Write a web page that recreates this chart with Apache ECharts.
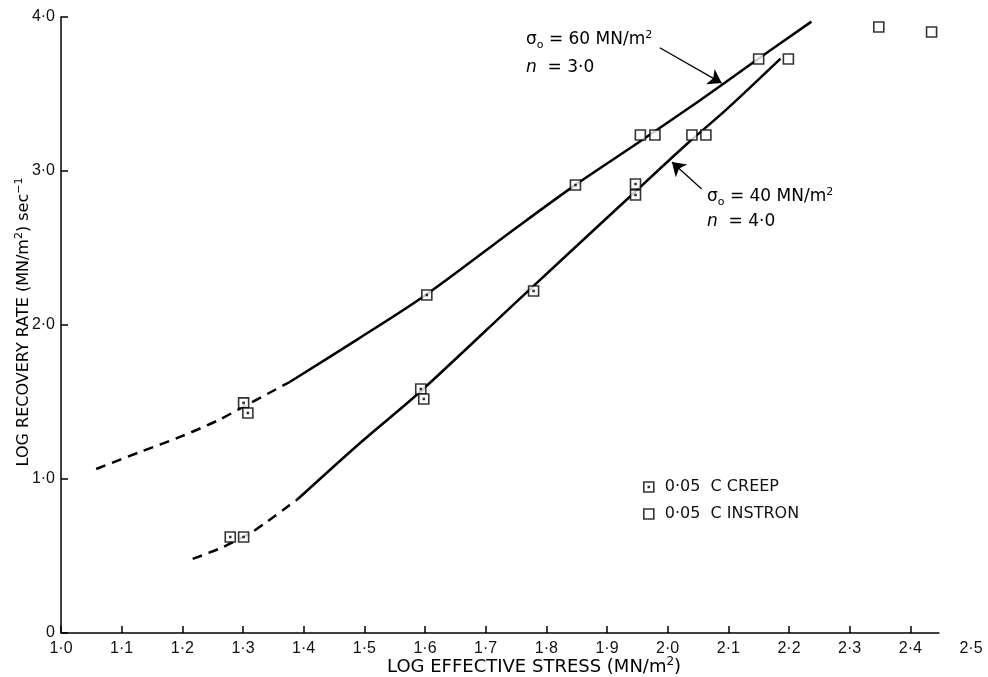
<!DOCTYPE html>
<html><head><meta charset="utf-8">
<script src="https://cdn.jsdelivr.net/npm/echarts@6/dist/echarts.min.js"></script>
<style>html,body{margin:0;padding:0;background:#fff}#c{width:988px;height:677px}</style>
</head><body><div id="c"></div>
<script>
// ---- data ----
const xTickLabels = ['1·0','1·1','1·2','1·3','1·4','1·5','1·6','1·7','1·8','1·9','2·0','2·1','2·2','2·3','2·4','2·5'];
const xTickMarks = [1.0, 1.1, 1.2, 1.3, 1.4, 1.5, 1.6, 1.7, 1.8, 1.9, 2.0, 2.1, 2.2, 2.3, 2.4];
const yTickLabels = ['0','1·0','2·0','3·0','4·0'];
const xAxisLineEnd = 2.448;

const creepX = [1.301, 1.308, 1.279, 1.301, 1.593, 1.598, 1.603, 1.779, 1.848, 1.947, 1.947];
const creepY = [1.494, 1.429, 0.623, 0.623, 1.584, 1.519, 2.195, 2.221, 2.909, 2.916, 2.844];

const instronX = [1.955, 1.979, 2.040, 2.063, 2.150, 2.199, 2.348, 2.435];
const instronY = [3.234, 3.234, 3.234, 3.234, 3.727, 3.727, 3.935, 3.903];

const upperDashX = [1.058, 1.13, 1.196, 1.26, 1.301, 1.377];
const upperDashY = [1.065, 1.175, 1.273, 1.383, 1.47, 1.630];
const upperSolidX = [1.377, 1.49, 1.603, 1.75, 1.848, 1.95, 2.05, 2.15, 2.237];
const upperSolidY = [1.630, 1.91, 2.20, 2.63, 2.91, 3.18, 3.45, 3.73, 3.97];

const lowerDashX = [1.217, 1.267, 1.315, 1.339, 1.377, 1.389];
const lowerDashY = [0.481, 0.558, 0.656, 0.721, 0.831, 0.865];
const lowerSolidX = [1.389, 1.493, 1.593, 1.756, 1.934, 2.033, 2.097, 2.186];
const lowerSolidY = [0.865, 1.234, 1.57, 2.17, 2.82, 3.18, 3.40, 3.73];

const arrowUpper = [[1.987, 3.80], [2.089, 3.571]];
const arrowLower = [[2.056, 2.883], [2.007, 3.058]];

const legendNames = ['0·05  C CREEP', '0·05  C INSTRON'];
const xTitle = 'LOG EFFECTIVE STRESS';
const yTitle = 'LOG RECOVERY RATE';

// ---- build ----
const zip = (a, b) => a.map((v, i) => [v, b[i]]);
const FONT = 'Liberation Sans';
const TFONT = 'DejaVu Sans';
const INK = '#111';
const creepSymbol = 'path://M0,0L10,0L10,10L0,10Z M4.5,4.5L5.5,4.5L5.5,5.5L4.5,5.5Z';
const instronSymbol = 'path://M0,0L10,0L10,10L0,10Z';
const markerStyle = { color: '#fff', borderColor: '#000', borderWidth: 1.6 };
const solidLine = { color: '#000', width: 2.5, type: 'solid' };
const dashLine = { color: '#000', width: 2.5, type: [10, 7] };

const chart = echarts.init(document.getElementById('c'), null, { renderer: 'canvas' });

const annoRich = {
  n: { fontSize: 17, lineHeight: 21, fontFamily: TFONT, color: INK },
  i: { fontSize: 17, lineHeight: 21, fontFamily: TFONT, color: INK, fontStyle: 'italic' },
  b: { fontSize: 11, lineHeight: 13, fontFamily: TFONT, color: INK, verticalAlign: 'bottom' },
  p: { fontSize: 11, lineHeight: 12, fontFamily: TFONT, color: INK, verticalAlign: 'top' }
};
const xTitleRich = {
  t: { fontSize: 18, lineHeight: 22, fontFamily: TFONT, color: INK },
  p: { fontSize: 12, lineHeight: 13, fontFamily: TFONT, color: INK, verticalAlign: 'top' }
};
const yTitleRich = {
  t: { fontSize: 16, lineHeight: 20, fontFamily: TFONT, color: INK },
  p: { fontSize: 11, lineHeight: 12, fontFamily: TFONT, color: INK, verticalAlign: 'top' }
};

const option = {
  animation: false,
  backgroundColor: '#fff',
  grid: { left: 61, right: 17, top: 17, bottom: 44, containLabel: false },
  xAxis: {
    type: 'value', min: 1.0, max: 2.5, interval: 0.1,
    axisLine: { show: false },
    axisTick: { show: true, inside: true, length: 7, customValues: xTickMarks, lineStyle: { color: '#000', width: 1.5 } },
    splitLine: { show: false },
    axisLabel: {
      margin: 8, fontSize: 16, fontFamily: FONT, color: INK,
      formatter: v => xTickLabels[Math.round((v - 1.0) * 10)] || ''
    }
  },
  yAxis: {
    type: 'value', min: 0, max: 4, interval: 1,
    axisLine: { show: true, lineStyle: { color: '#000', width: 1.5 } },
    axisTick: { show: true, inside: true, length: 7, lineStyle: { color: '#000', width: 1.5 } },
    splitLine: { show: false },
    axisLabel: {
      margin: 6, fontSize: 16, fontFamily: FONT, color: INK,
      formatter: v => yTickLabels[Math.round(v)] || ''
    }
  },
  legend: {
    orient: 'vertical', left: 643, top: 479,
    itemWidth: 10, itemHeight: 10, itemGap: 11, padding: 0,
    textStyle: { fontSize: 16, fontFamily: TFONT, color: INK, padding: [0, 0, 0, 6] },
    itemStyle: { color: '#fff', borderColor: '#000', borderWidth: 1.6 },
    data: [
      { name: legendNames[0], icon: creepSymbol },
      { name: legendNames[1], icon: instronSymbol }
    ]
  },
  series: [
    { type: 'line', data: zip(upperDashX, upperDashY), smooth: 0.3, showSymbol: false, lineStyle: dashLine, z: 2, silent: true },
    {
      type: 'line', data: zip(upperSolidX, upperSolidY), smooth: 0.3, showSymbol: false, lineStyle: solidLine, z: 2, silent: true,
      markLine: {
        silent: true, symbol: ['none', 'arrow'], symbolSize: 13,
        lineStyle: { color: '#000', width: 1.3, type: 'solid' },
        label: { show: false },
        data: [
          [{ coord: arrowUpper[0] }, { coord: arrowUpper[1] }],
          [{ coord: arrowLower[0] }, { coord: arrowLower[1] }]
        ]
      }
    },
    { type: 'line', data: zip(lowerDashX, lowerDashY), smooth: 0.3, showSymbol: false, lineStyle: dashLine, z: 2, silent: true,
      markLine: {
        silent: true, symbol: ['none', 'none'],
        lineStyle: { color: '#000', width: 1.5, type: 'solid' },
        label: { show: false },
        data: [[{ coord: [1.0, 0] }, { coord: [xAxisLineEnd, 0] }]]
      }
    },
    { type: 'line', data: zip(lowerSolidX, lowerSolidY), smooth: 0.3, showSymbol: false, lineStyle: solidLine, z: 2, silent: true },
    { name: legendNames[0], type: 'scatter', data: zip(creepX, creepY), symbol: creepSymbol, symbolSize: 10, itemStyle: markerStyle, z: 5 },
    { name: legendNames[1], type: 'scatter', data: zip(instronX, instronY), symbol: instronSymbol, symbolSize: 10, itemStyle: markerStyle, z: 5 }
  ],
  graphic: [
    { type: 'text', x: 526, y: 40, style: { text: '{n|σ}{b|o}{n| = 60 MN/m}{p|2}', rich: annoRich, align: 'left', verticalAlign: 'middle' } },
    { type: 'text', x: 526, y: 68, style: { text: '{i|n}{n|  = 3·0}', rich: annoRich, align: 'left', verticalAlign: 'middle' } },
    { type: 'text', x: 707, y: 197, style: { text: '{n|σ}{b|o}{n| = 40 MN/m}{p|2}', rich: annoRich, align: 'left', verticalAlign: 'middle' } },
    { type: 'text', x: 707, y: 222, style: { text: '{i|n}{n|  = 4·0}', rich: annoRich, align: 'left', verticalAlign: 'middle' } },
    { type: 'text', x: 387, y: 667, style: { text: '{t|' + xTitle + ' (MN/m}{p|2}{t|)}', rich: xTitleRich, align: 'left', verticalAlign: 'middle' } },
    { type: 'text', x: 24, y: 322, rotation: Math.PI / 2, style: { text: '{t|' + yTitle + ' (MN/m}{p|2}{t|) sec}{p|−1}', rich: yTitleRich, align: 'center', verticalAlign: 'middle' } }
  ]
};
chart.setOption(option);
</script>
</body></html>
